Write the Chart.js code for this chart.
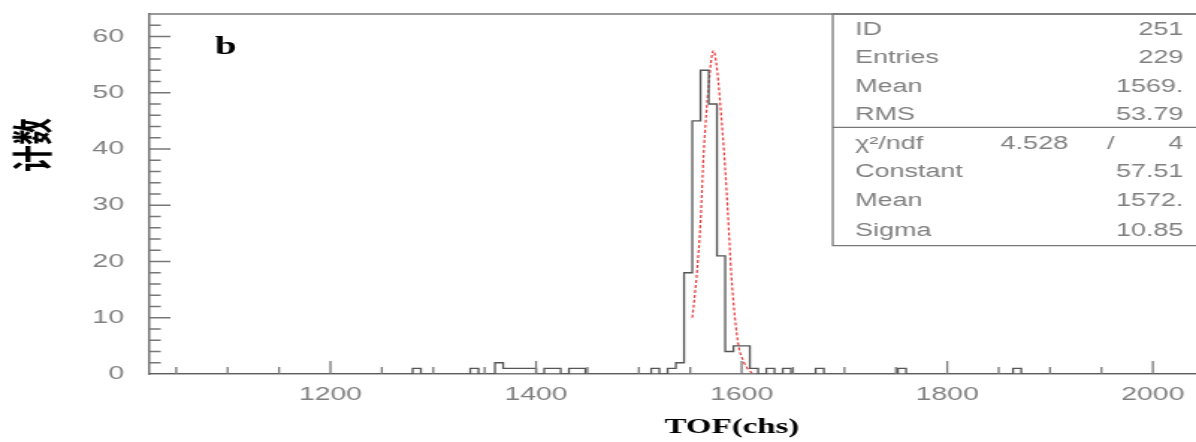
<!DOCTYPE html>
<html>
<head>
<meta charset="utf-8">
<script src="https://cdn.jsdelivr.net/npm/chart.js@4.4.0/dist/chart.umd.min.js"></script>
<style>
  html, body { margin: 0; padding: 0; background: #fff; }
  #tofChart { display: block; }
</style>
</head>
<body>
<!-- the original plot is stretched sideways, so the canvas is too -->
<canvas id="tofChart" width="800" height="442" style="width:1196px;height:442px"></canvas>
<script>
// histogram 251: 8-channel bins, 1024..2048, only the non-empty bins listed
const binStart = 1024;
const binWidth = 8;
const binTotal = 128;
const binLow = [1288, 1344, 1368, 1376, 1384, 1392, 1400, 1416, 1424, 1440, 1448, 1520,
  1536, 1544, 1552, 1560, 1568, 1576, 1584, 1592, 1600, 1608, 1616, 1632, 1648, 1680, 1760, 1872];
const binEntries = [1, 1, 2, 1, 1, 1, 1, 1, 1, 1, 1, 1,
  1, 2, 18, 45, 54, 48, 21, 4, 5, 5, 1, 1, 1, 1, 1, 1];

// gaussian fit (red dashed)
const fitX = [1552, 1556, 1560, 1563, 1568, 1572.5, 1575.5, 1579, 1584, 1586.5, 1590, 1593.5, 1597, 1602, 1606, 1610];
const fitY = [10, 17, 27, 39, 51.5, 57.5, 55, 48.5, 36.5, 29, 17.5, 10, 5, 2.2, 0.9, 0.2];

const xTicks = [1200, 1400, 1600, 1800, 2000];
const yTicks = [0, 10, 20, 30, 40, 50, 60];

const statsHist = [["ID", "251"], ["Entries", "229"], ["Mean", "1569."], ["RMS", "53.79"]];
const chi2ndf = ["4.528", "4"];
const statsFit = [["Constant", "57.51"], ["Mean", "1572."], ["Sigma", "10.85"]];

const histPoints = [];
for (let i = 0; i <= binTotal; i++) {
  const lo = binStart + i * binWidth;
  const k = binLow.indexOf(lo);
  histPoints.push({ x: lo, y: k >= 0 ? binEntries[k] : 0 });
}
const fitPoints = fitX.map((v, i) => ({ x: v, y: fitY[i] }));

const axisGrey = "#777";
const textGrey = "#808080";

const decor = {
  id: "decor",
  afterDraw(chart) {
    const { ctx, chartArea: a, scales: { x, y } } = chart;
    ctx.save();
    ctx.strokeStyle = axisGrey;
    ctx.lineWidth = 1.3;

    // frame top
    ctx.beginPath();
    ctx.moveTo(a.left, a.top);
    ctx.lineTo(a.right, a.top);
    ctx.stroke();

    // tick marks point into the plot
    ctx.beginPath();
    for (let v = Math.ceil(x.min / 50) * 50; v < x.max; v += 50) {
      const px = x.getPixelForValue(v);
      const len = v % 200 === 0 ? 13 : 7;
      ctx.moveTo(px, a.bottom);
      ctx.lineTo(px, a.bottom - len);
    }
    for (let v = 2; v < y.max; v += 2) {
      const py = y.getPixelForValue(v);
      const len = v % 10 === 0 ? 14 : 7.5;
      ctx.moveTo(a.left, py);
      ctx.lineTo(a.left + len, py);
    }
    ctx.stroke();

    // stats box
    const bx = 557, bTop = a.top, bMid = 127.3, bBot = 245.7, bRight = a.right + 4;
    ctx.beginPath();
    ctx.moveTo(bRight, bTop);
    ctx.lineTo(bx, bTop);
    ctx.lineTo(bx, bBot);
    ctx.lineTo(bRight, bBot);
    ctx.moveTo(bx, bMid);
    ctx.lineTo(bRight, bMid);
    ctx.stroke();

    ctx.fillStyle = textGrey;
    ctx.font = "18px 'Liberation Sans', Arial, sans-serif";
    ctx.textBaseline = "middle";
    const labX = 572, valX = 791.5;
    const h1 = (bMid - bTop) / 4;
    statsHist.forEach(([k, v], i) => {
      const ty = bTop + (i + 0.57) * h1;
      ctx.textAlign = "left";
      ctx.fillText(k, labX, ty);
      ctx.textAlign = "right";
      ctx.fillText(v, valX, ty);
    });
    const h2 = (bBot - bMid) / 4;
    const chiY = bMid + 0.55 * h2;
    ctx.textAlign = "left";
    ctx.fillText("\u03c7\u00b2/ndf", labX, chiY);
    ctx.textAlign = "right";
    ctx.fillText(chi2ndf[0], 714.4, chiY);
    ctx.textAlign = "center";
    ctx.fillText("/", 743, chiY);
    ctx.textAlign = "right";
    ctx.fillText(chi2ndf[1], valX, chiY);
    statsFit.forEach(([k, v], i) => {
      const ty = bMid + (i + 1.5) * h2;
      ctx.textAlign = "left";
      ctx.fillText(k, labX, ty);
      ctx.textAlign = "right";
      ctx.fillText(v, valX, ty);
    });

    // panel letter
    ctx.fillStyle = "#000";
    ctx.textAlign = "center";
    ctx.font = "bold 26px 'Liberation Serif', 'Times New Roman', serif";
    ctx.fillText("b", 151, 47);

    // axis titles
    ctx.font = "bold 22px 'Liberation Serif', 'Times New Roman', serif";
    ctx.fillText("TOF(chs)", 489.6, 427);

    ctx.translate(21.4, 145);
    ctx.rotate(-Math.PI / 2);
    ctx.font = "bold 27px 'Noto Sans CJK SC', sans-serif";
    ctx.fillText("计数", 0, 0);
    ctx.restore();
  }
};

new Chart(document.getElementById("tofChart"), {
  type: "line",
  data: {
    datasets: [
      {
        label: "TOF",
        data: histPoints,
        stepped: "after",
        borderColor: "#555",
        borderWidth: 1.3,
        pointRadius: 0,
        fill: false,
      },
      {
        label: "fit",
        data: fitPoints,
        borderColor: "#e8393a",
        borderWidth: 1.2,
        borderDash: [3, 2],
        cubicInterpolationMode: "monotone",
        pointRadius: 0,
        fill: false,
      },
    ],
  },
  options: {
    responsive: false,
    devicePixelRatio: 1,
    animation: false,
    layout: { padding: { top: 14, right: 0, left: 0, bottom: 0 } },
    plugins: {
      legend: { display: false },
      tooltip: { enabled: false },
    },
    scales: {
      x: {
        type: "linear",
        min: 1024,
        max: 2042,
        afterBuildTicks: (s) => { s.ticks = xTicks.map((v) => ({ value: v })); },
        afterFit: (s) => { s.height = 68; s.paddingLeft = 0; s.paddingRight = 0; },
        grid: { display: false, drawTicks: false },
        border: { display: true, color: axisGrey, width: 1.5 },
        ticks: {
          padding: 9,
          maxRotation: 0,
          color: textGrey,
          font: { family: "'Liberation Sans', Arial, sans-serif", size: 19 },
          callback: (v) => String(v),
        },
      },
      y: {
        min: 0,
        max: 64,
        afterBuildTicks: (s) => { s.ticks = yTicks.map((v) => ({ value: v })); },
        afterFit: (s) => { s.width = 100; s.paddingTop = 0; s.paddingBottom = 0; },
        grid: { display: false, drawTicks: false },
        border: { display: true, color: axisGrey, width: 1.5 },
        ticks: {
          padding: 17,
          color: textGrey,
          font: { family: "'Liberation Sans', Arial, sans-serif", size: 19 },
        },
      },
    },
  },
  plugins: [decor],
});
</script>
</body>
</html>
